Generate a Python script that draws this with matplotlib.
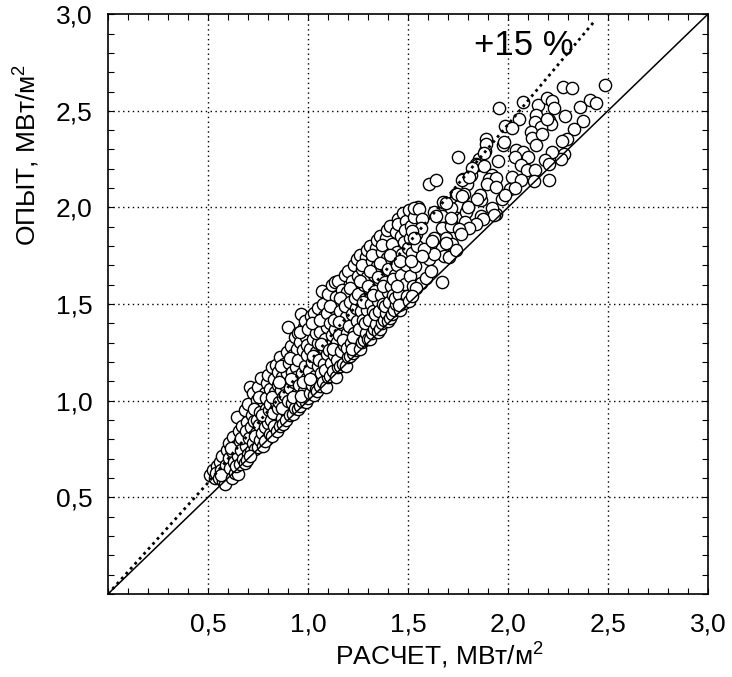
import matplotlib
matplotlib.use("Agg")
import matplotlib.pyplot as plt
from matplotlib.ticker import MultipleLocator, FixedLocator

plt.rcParams['font.family'] = ['Liberation Sans', 'DejaVu Sans']
plt.rcParams['mathtext.fontset'] = 'custom'
plt.rcParams['mathtext.rm'] = 'Liberation Sans'
plt.rcParams['mathtext.it'] = 'Liberation Sans'

# ---- data: (calculated, experimental) heat flux pairs, MW/m2 ----
pts_a = [  # calculated 0.50 - 0.90
    (0.508, 0.618), (0.525, 0.641), (0.534, 0.602), (0.546, 0.662), (0.541, 0.627),
    (0.553, 0.598), (0.558, 0.684), (0.566, 0.641), (0.572, 0.712), (0.577, 0.583),
    (0.584, 0.571), (0.589, 0.667), (0.593, 0.745), (0.597, 0.622), (0.563, 0.617),
    (0.603, 0.781), (0.607, 0.703), (0.612, 0.654), (0.618, 0.602), (0.622, 0.739),
    (0.627, 0.812), (0.631, 0.681), (0.636, 0.628), (0.642, 0.768), (0.645, 0.918),
    (0.648, 0.716), (0.651, 0.623), (0.614, 0.756), (0.638, 0.660),
    (0.654, 0.843), (0.659, 0.792), (0.662, 0.671), (0.667, 0.744), (0.671, 0.868),
    (0.674, 0.701), (0.679, 0.819), (0.683, 0.678), (0.687, 0.952), (0.691, 0.768),
    (0.694, 0.891), (0.698, 0.724), (0.665, 0.806), (0.688, 0.842), (0.697, 0.695),
    (0.702, 0.983), (0.706, 0.806), (0.709, 1.072), (0.713, 0.862), (0.716, 0.739),
    (0.719, 0.928), (0.723, 0.781), (0.727, 1.038), (0.731, 0.893), (0.734, 0.752),
    (0.738, 0.968), (0.741, 0.832), (0.744, 1.005), (0.748, 0.762), (0.712, 0.712),
    (0.729, 0.956), (0.736, 0.818), (0.746, 0.901),
    (0.752, 1.072), (0.755, 0.872), (0.759, 0.795), (0.762, 0.941), (0.766, 1.118),
    (0.769, 0.833), (0.773, 0.998), (0.776, 0.768), (0.779, 0.905), (0.783, 1.041),
    (0.786, 0.862), (0.789, 0.958), (0.793, 0.801), (0.796, 1.094), (0.799, 0.886),
    (0.757, 1.021), (0.771, 0.924), (0.785, 0.792), (0.792, 1.012),
    (0.802, 1.132), (0.805, 0.952), (0.808, 0.829), (0.812, 1.061), (0.815, 0.902),
    (0.818, 1.176), (0.822, 0.815), (0.825, 0.998), (0.829, 1.112), (0.832, 0.868),
    (0.835, 1.043), (0.839, 0.931), (0.842, 1.187), (0.845, 0.843), (0.848, 1.082),
    (0.811, 0.985), (0.826, 0.937), (0.838, 0.994), (0.849, 0.962), (0.819, 1.021),
    (0.852, 1.148), (0.855, 0.992), (0.858, 0.868), (0.861, 1.226), (0.865, 1.057),
    (0.868, 0.912), (0.871, 1.121), (0.874, 0.878), (0.877, 1.018), (0.881, 1.189),
    (0.884, 0.953), (0.887, 1.083), (0.891, 0.898), (0.894, 1.252), (0.897, 1.142),
    (0.857, 1.095), (0.872, 0.961), (0.886, 1.031), (0.899, 0.997), (0.864, 1.178),
]

pts_b = [  # calculated 0.90 - 1.30
    (0.902, 1.382), (0.905, 1.195), (0.908, 0.925), (0.911, 1.066), (0.914, 1.285),
    (0.918, 0.987), (0.921, 1.148), (0.924, 0.932), (0.927, 1.236), (0.931, 1.098),
    (0.934, 1.331), (0.937, 0.961), (0.941, 1.172), (0.944, 1.035), (0.947, 1.268),
    (0.949, 0.958), (0.912, 1.221), (0.926, 1.021), (0.939, 1.121), (0.948, 1.352),
    (0.917, 1.112),
    (0.952, 1.212), (0.955, 1.081), (0.958, 0.972), (0.962, 1.302), (0.965, 1.448),
    (0.968, 1.145), (0.971, 0.998), (0.975, 1.262), (0.978, 1.382), (0.981, 1.052),
    (0.984, 1.181), (0.988, 0.992), (0.991, 1.331), (0.994, 1.118), (0.997, 1.238),
    (0.999, 1.012), (0.959, 1.358), (0.973, 1.099), (0.986, 1.412), (0.996, 1.288),
    (0.963, 1.022),
    (1.002, 1.372), (1.005, 1.152), (1.008, 1.041), (1.012, 1.268), (1.015, 1.438),
    (1.018, 1.082), (1.021, 1.201), (1.025, 1.322), (1.028, 1.031), (1.031, 1.455),
    (1.034, 1.128), (1.038, 1.252), (1.041, 1.062), (1.044, 1.392), (1.048, 1.178),
    (1.049, 1.298), (1.011, 1.112), (1.027, 1.231), (1.039, 1.348), (1.046, 1.052),
    (1.022, 1.402),
    (1.052, 1.482), (1.055, 1.212), (1.058, 1.078), (1.062, 1.356), (1.065, 1.142),
    (1.068, 1.568), (1.071, 1.278), (1.075, 1.098), (1.078, 1.441), (1.081, 1.188),
    (1.084, 1.318), (1.088, 1.072), (1.091, 1.512), (1.094, 1.241), (1.097, 1.382),
    (1.099, 1.121), (1.059, 1.418), (1.073, 1.502), (1.086, 1.158), (1.096, 1.452),
    (1.064, 1.292),
    (1.102, 1.552), (1.105, 1.262), (1.108, 1.128), (1.112, 1.402), (1.115, 1.195),
    (1.118, 1.598), (1.121, 1.338), (1.125, 1.152), (1.128, 1.481), (1.131, 1.238),
    (1.134, 1.372), (1.138, 1.122), (1.141, 1.535), (1.144, 1.302), (1.148, 1.428),
    (1.149, 1.172), (1.111, 1.488), (1.123, 1.268), (1.136, 1.612), (1.146, 1.212),
    (1.129, 1.418),
    (1.152, 1.621), (1.155, 1.342), (1.158, 1.182), (1.162, 1.462), (1.165, 1.258),
    (1.168, 1.575), (1.171, 1.398), (1.175, 1.192), (1.178, 1.528), (1.181, 1.288),
    (1.184, 1.652), (1.188, 1.178), (1.191, 1.432), (1.194, 1.352), (1.197, 1.562),
    (1.199, 1.228), (1.161, 1.532), (1.173, 1.312), (1.186, 1.492), (1.196, 1.272),
    (1.157, 1.408),
    (1.202, 1.672), (1.205, 1.388), (1.208, 1.232), (1.212, 1.512), (1.215, 1.298),
    (1.218, 1.618), (1.221, 1.451), (1.225, 1.248), (1.228, 1.702), (1.231, 1.352),
    (1.234, 1.562), (1.238, 1.262), (1.241, 1.482), (1.244, 1.412), (1.248, 1.648),
    (1.249, 1.288), (1.211, 1.582), (1.223, 1.332), (1.236, 1.532), (1.246, 1.732),
    (1.219, 1.268),
    (1.252, 1.552), (1.255, 1.372), (1.258, 1.268), (1.262, 1.752), (1.265, 1.462),
    (1.268, 1.302), (1.271, 1.682), (1.275, 1.418), (1.278, 1.598), (1.281, 1.312),
    (1.284, 1.528), (1.288, 1.742), (1.291, 1.352), (1.294, 1.638), (1.297, 1.468),
    (1.299, 1.318), (1.261, 1.622), (1.273, 1.512), (1.286, 1.402), (1.296, 1.778),
    (1.269, 1.702),
]

pts_c = [  # calculated 1.30 - 1.55
    (1.302, 1.592), (1.305, 1.418), (1.308, 1.322), (1.312, 1.802), (1.315, 1.502),
    (1.318, 1.348), (1.321, 1.722), (1.325, 1.462), (1.328, 1.652), (1.331, 1.372),
    (1.334, 1.568), (1.338, 1.792), (1.341, 1.398), (1.344, 1.698), (1.348, 1.518),
    (1.349, 1.358), (1.311, 1.672), (1.323, 1.548), (1.336, 1.448), (1.346, 1.832),
    (1.319, 1.752),
    (1.352, 1.642), (1.355, 1.462), (1.358, 1.372), (1.362, 1.852), (1.365, 1.548),
    (1.368, 1.402), (1.371, 1.772), (1.375, 1.498), (1.378, 1.702), (1.381, 1.418),
    (1.384, 1.612), (1.388, 1.842), (1.391, 1.452), (1.394, 1.738), (1.398, 1.562),
    (1.399, 1.412), (1.361, 1.712), (1.373, 1.592), (1.386, 1.488), (1.396, 1.882),
    (1.369, 1.808),
    (1.402, 1.682), (1.405, 1.512), (1.408, 1.428), (1.412, 1.902), (1.415, 1.592),
    (1.418, 1.448), (1.421, 1.812), (1.425, 1.548), (1.428, 1.742), (1.431, 1.472),
    (1.434, 1.652), (1.438, 1.872), (1.441, 1.502), (1.444, 1.772), (1.448, 1.612),
    (1.449, 1.942), (1.411, 1.752), (1.423, 1.632), (1.436, 1.532), (1.446, 1.702),
    (1.452, 1.912), (1.455, 1.552), (1.459, 1.468), (1.463, 1.852), (1.466, 1.652),
    (1.471, 1.758), (1.474, 1.972), (1.478, 1.508), (1.481, 1.822), (1.485, 1.602),
    (1.488, 1.702), (1.492, 1.932), (1.495, 1.542), (1.498, 1.792), (1.462, 1.722),
    (1.484, 1.882),
    (1.503, 1.988), (1.508, 1.842), (1.512, 1.648), (1.517, 1.902), (1.521, 1.762),
    (1.526, 1.592), (1.531, 1.952), (1.536, 1.698), (1.541, 1.862), (1.546, 1.802),
    (1.549, 2.002), (1.514, 1.722),
]

pts_d = [  # calculated 1.44 - 1.95, sparser part
    (1.567, 1.608), (1.542, 1.582), (1.457, 1.497), (1.505, 1.515), (1.522, 1.541),
    (1.447, 1.593), (1.607, 1.732), (1.592, 1.634), (1.617, 1.670),
    (1.776, 2.149), (1.796, 2.124), (1.781, 2.072), (1.742, 2.072), (1.866, 2.041),
    (1.717, 2.021), (1.677, 2.026), (1.756, 2.010), (1.801, 2.005), (1.941, 1.964),
    (1.866, 1.954), (1.672, 1.954), (1.771, 1.948), (1.791, 1.979), (1.632, 1.979),
    (1.642, 1.954), (1.532, 1.995), (1.557, 1.990), (1.572, 1.938), (1.567, 1.892),
    (1.672, 1.892), (1.717, 1.902), (1.692, 1.840), (1.722, 1.809), (1.632, 1.840),
    (1.622, 1.799), (1.672, 1.789), (1.682, 1.747), (1.707, 1.742), (1.632, 1.758),
    (1.582, 1.784), (1.572, 1.747), (1.522, 1.876), (1.532, 1.840), (1.856, 2.253),
    (1.841, 2.227), (1.886, 2.294), (1.816, 2.170), (1.747, 2.072), (1.771, 2.057),
    (1.717, 1.995), (1.692, 2.021),
]

pts_e = [  # calculated 1.60 - 2.50, upper end
    (1.956, 2.515), (2.076, 2.546), (1.986, 2.423), (2.056, 2.459), (2.021, 2.412),
    (2.151, 2.531), (2.196, 2.567), (2.221, 2.552), (2.231, 2.515), (2.275, 2.624),
    (2.320, 2.619), (2.485, 2.634), (2.410, 2.557), (2.440, 2.541), (2.360, 2.521),
    (2.285, 2.474), (2.375, 2.448), (2.330, 2.407), (2.295, 2.356), (2.270, 2.345),
    (2.280, 2.278), (2.265, 2.253), (2.206, 2.144), (2.221, 2.289), (2.186, 2.247),
    (2.141, 2.479), (2.136, 2.443), (2.206, 2.454), (2.216, 2.433), (2.166, 2.418),
    (2.116, 2.392), (2.121, 2.361), (2.171, 2.381), (2.141, 2.325), (2.041, 2.299),
    (2.076, 2.289), (2.036, 2.263), (2.101, 2.263), (2.066, 2.222), (2.096, 2.196),
    (2.136, 2.196), (2.021, 2.160), (2.066, 2.144), (2.131, 2.139), (2.011, 2.098),
    (2.036, 2.103), (1.976, 2.325), (1.951, 2.242), (1.981, 2.340), (1.891, 2.356),
    (1.891, 2.330), (1.881, 2.284), (1.751, 2.263), (1.846, 2.222), (1.821, 2.206),
    (1.881, 2.216), (1.771, 2.144), (1.806, 2.160), (1.921, 2.170), (1.906, 2.149),
    (1.941, 2.155), (1.896, 2.124), (1.941, 2.108), (1.971, 2.046), (1.986, 2.067),
    (1.861, 2.067), (1.846, 2.046), (1.801, 2.000), (1.921, 1.995), (1.931, 1.959),
    (1.876, 1.938), (1.841, 1.912), (1.786, 1.923), (1.806, 1.892), (1.742, 1.778),
    (1.692, 1.814), (1.756, 1.887), (1.717, 1.943), (1.766, 1.861), (1.622, 1.825),
    (1.607, 2.119), (1.642, 2.144), (1.672, 1.613), (2.206, 2.227), (2.196, 2.459),
]

# reference lines
ident_x = [0.0, 3.0]
ident_y = [0.0, 3.0]
plus15_x = [0.0, 0.5, 2.43]
plus15_y = [0.0, 0.575, 2.96]
plus15_label = "+15 %"
plus15_pos = (2.08, 2.84)

tick_vals = [0.5, 1.0, 1.5, 2.0, 2.5, 3.0]
tick_text = ["0,5", "1,0", "1,5", "2,0", "2,5", "3,0"]
xlabel = "РАСЧЕТ, МВт/м$^2$"
ylabel = "ОПЫТ, МВт/м$^2$"

xs, ys = [], []
for group in (pts_a, pts_b, pts_c, pts_d, pts_e):
    for xv, yv in group:
        xs.append(xv)
        ys.append(yv)

fig = plt.figure(figsize=(7.32, 6.77), dpi=100)
ax = fig.add_axes([0.1475, 0.1226, 0.8195, 0.8564])

ax.scatter(xs, ys, s=78, facecolors='white', edgecolors='black',
           linewidths=1.0, zorder=3)
ax.plot(ident_x, ident_y, color='black', lw=1.1, zorder=4)
ax.plot(plus15_x, plus15_y, color='black', lw=2.0,
        linestyle=(0, (1, 1.4)), zorder=4)
ax.text(plus15_pos[0], plus15_pos[1], plus15_label, fontsize=25,
        ha='center', va='center', zorder=5)

ax.set_xlim(0, 3.0)
ax.set_ylim(0, 3.0)
ax.xaxis.set_major_locator(FixedLocator(tick_vals))
ax.yaxis.set_major_locator(FixedLocator(tick_vals))
ax.set_xticklabels(tick_text)
ax.set_yticklabels(tick_text)
ax.xaxis.set_minor_locator(MultipleLocator(0.1))
ax.yaxis.set_minor_locator(MultipleLocator(0.1))
ax.tick_params(which='both', direction='in', top=True, right=True,
               length=4, width=0.8, colors='black')
ax.tick_params(axis='x', which='major', labelsize=19, pad=13)
ax.tick_params(axis='y', which='major', labelsize=19, pad=11)

for v in tick_vals[:-1]:
    ax.axvline(v, color='black', lw=1.0, linestyle=(0, (1, 2.5)), zorder=1)
    ax.axhline(v, color='black', lw=1.0, linestyle=(0, (1, 2.5)), zorder=1)

for sp in ax.spines.values():
    sp.set_linewidth(1.2)

ax.set_xlabel(xlabel, fontsize=19)
ax.set_ylabel(ylabel, fontsize=19)
ax.xaxis.set_label_coords(0.553, -0.081)
ax.yaxis.set_label_coords(-0.11, 0.757)

fig.savefig("out.png", dpi=100)
